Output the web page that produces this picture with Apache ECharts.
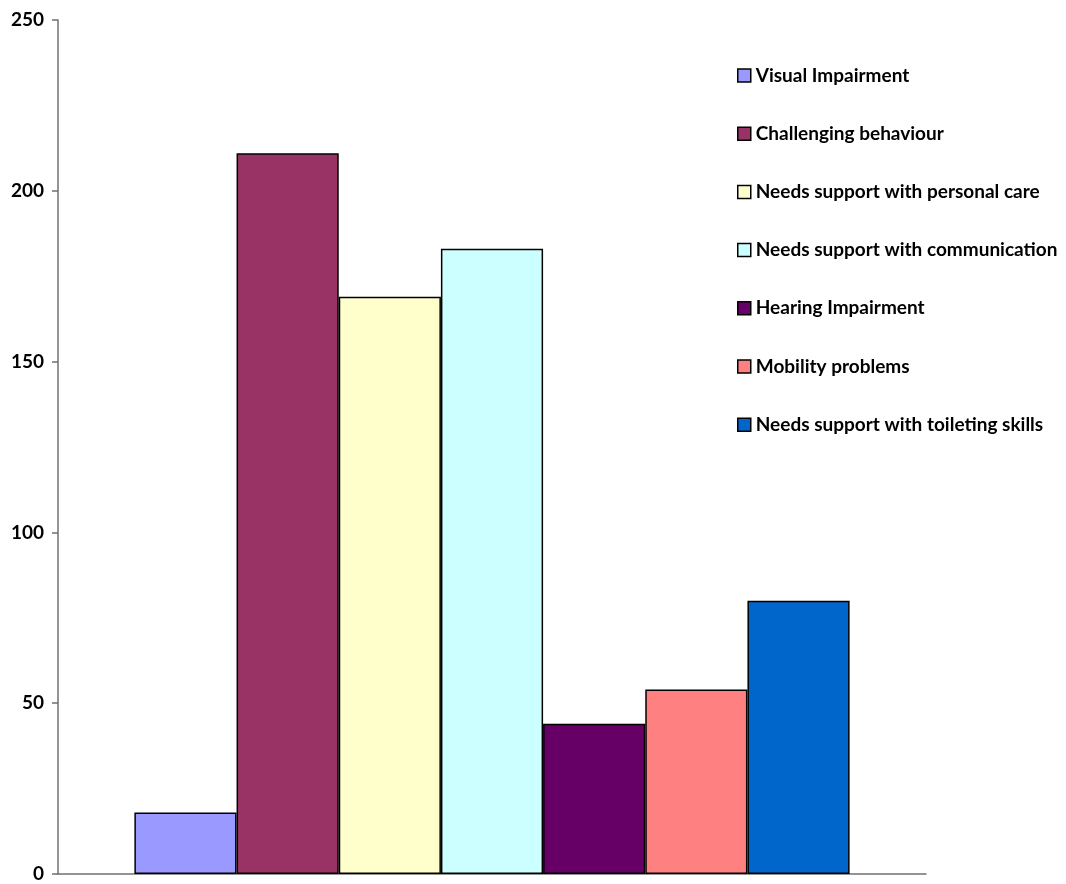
<!DOCTYPE html>
<html>
<head>
<meta charset="utf-8">
<script src="https://cdn.jsdelivr.net/npm/echarts@6/dist/echarts.min.js"></script>
<style>
  html, body { margin: 0; padding: 0; background: #ffffff; }
  #chart { width: 1066px; height: 884px; }
</style>
</head>
<body>
<div id="chart"></div>
<script>
// Needs reported, one bar per category of need
const needNames = [
  'Visual Impairment',
  'Challenging behaviour',
  'Needs support with personal care',
  'Needs support with communication',
  'Hearing Impairment',
  'Mobility problems',
  'Needs support with toileting skills'
];
const needCounts = [18, 211, 169, 183, 44, 54, 80];
const needColors = ['#9999FF', '#993366', '#FFFFCC', '#CCFFFF', '#660066', '#FF8080', '#0066CC'];
const yTicks = [0, 50, 100, 150, 200, 250];

const FONT = 'Lato, "Open Sans", sans-serif';

const series = needNames.map((name, i) => ({
  name: name,
  type: 'bar',
  data: [needCounts[i]],
  barGap: '0%',
  barCategoryGap: '17.6%',
  itemStyle: { color: needColors[i], borderColor: '#000000', borderWidth: 1.5 },
  emphasis: { disabled: true }
}));

const chart = echarts.init(document.getElementById('chart'), null, { renderer: 'canvas' });
chart.setOption({
  backgroundColor: '#ffffff',
  animation: false,
  grid: { left: 58, right: 140, top: 20, bottom: 10, containLabel: false },
  legend: {
    orient: 'vertical',
    left: 737,
    top: 66,
    padding: 0,
    itemWidth: 13,
    itemHeight: 13,
    itemGap: 39.2,
    icon: 'rect',
    itemStyle: { borderColor: '#000000', borderWidth: 1.5 },
    textStyle: { fontFamily: FONT, fontWeight: 'bold', fontSize: 19, color: '#000000', lineHeight: 18, padding: [0, 0, 0, 0] },
    data: needNames
  },
  xAxis: {
    type: 'category',
    data: [''],
    axisLine: { show: true, lineStyle: { color: '#707070', width: 1.5 } },
    axisTick: { show: false },
    axisLabel: { show: false }
  },
  yAxis: {
    type: 'value',
    min: yTicks[0],
    max: yTicks[yTicks.length - 1],
    interval: 50,
    splitLine: { show: false },
    axisLine: { show: true, lineStyle: { color: '#707070', width: 1.5 } },
    axisTick: { show: true, length: 6, lineStyle: { color: '#707070', width: 1.5 } },
    axisLabel: {
      margin: 14,
      fontFamily: FONT,
      fontWeight: 'bold',
      fontSize: 19,
      color: '#000000',
      formatter: (v) => (yTicks.includes(v) ? String(v) : '')
    }
  },
  series: series
});
</script>
</body>
</html>
